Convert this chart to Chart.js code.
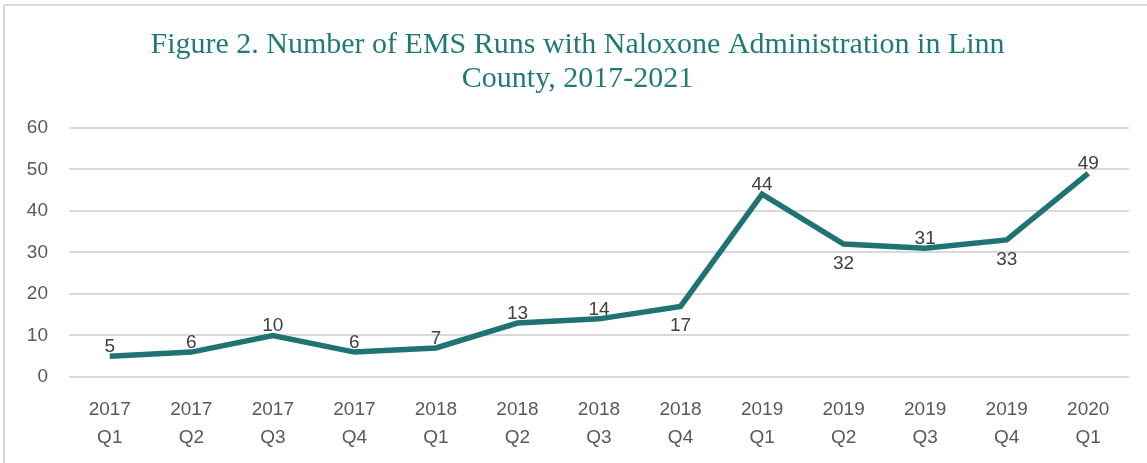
<!DOCTYPE html>
<html>
<head>
<meta charset="utf-8">
<script src="https://cdn.jsdelivr.net/npm/chart.js@4"></script>
<style>
  html, body { margin: 0; padding: 0; background: #ffffff; overflow: hidden; }
  #frame { position: absolute; left: 3px; top: 4px; width: 1160px; height: 480px; border: 2px solid #d9d9d9; box-sizing: border-box; }
  #wrap { position: absolute; left: 0; top: 0; width: 1147px; height: 463px; }
</style>
</head>
<body>
<div id="frame"></div>
<div id="wrap"><canvas id="c" width="1147" height="463"></canvas></div>
<script>
const years = ['2017','2017','2017','2017','2018','2018','2018','2018','2019','2019','2019','2019','2020'];
const quarters = ['Q1','Q2','Q3','Q4','Q1','Q2','Q3','Q4','Q1','Q2','Q3','Q4','Q1'];
const runs = [5, 6, 10, 6, 7, 13, 14, 17, 44, 32, 31, 33, 49];
const labelSide = ['above','above','above','above','above','above','above','below','above','below','above','below','above'];
const yTicks = { min: 0, max: 60, step: 10 };

const categories = years.map((y, i) => [y, quarters[i]]);

const dataLabels = {
  id: 'dataLabels',
  afterDatasetsDraw(chart) {
    const ctx = chart.ctx;
    const meta = chart.getDatasetMeta(0);
    ctx.save();
    ctx.font = '19px "Liberation Sans", Arial, sans-serif';
    ctx.fillStyle = '#404040';
    ctx.textAlign = 'center';
    ctx.textBaseline = 'alphabetic';
    meta.data.forEach((pt, i) => {
      const side = labelSide[i];
      const y = side === 'below' ? pt.y + 25 : pt.y - 4;
      ctx.fillText(String(runs[i]), pt.x, y);
    });
    ctx.restore();
  }
};

new Chart(document.getElementById('c'), {
  type: 'line',
  data: {
    labels: categories,
    datasets: [{
      data: runs,
      borderColor: '#1f7373',
      borderWidth: 5.5,
      pointRadius: 0,
      pointHoverRadius: 0,
      tension: 0,
      fill: false,
      borderJoinStyle: 'miter',
      borderCapStyle: 'butt'
    }]
  },
  options: {
    responsive: false,
    animation: false,
    devicePixelRatio: 1,
    layout: { padding: { left: 26, right: 18, top: 0, bottom: 0 } },
    plugins: {
      legend: { display: false },
      tooltip: { enabled: false },
      title: {
        display: true,
        text: ['Figure 2. Number of EMS Runs with Naloxone Administration in Linn', 'County, 2017-2021'],
        color: '#217a78',
        font: { family: '"Liberation Serif", "DejaVu Serif", serif', size: 30, weight: 'normal', lineHeight: 1.13 },
        padding: { top: 28, bottom: 32 }
      }
    },
    scales: {
      x: {
        offset: true,
        grid: { display: false, drawTicks: false },
        border: { display: false },
        afterFit(scale) { scale.height = 86; },
        ticks: {
          color: '#595959',
          font: { family: '"Liberation Sans", Arial, sans-serif', size: 19, lineHeight: 1.47 },
          padding: 19,
          maxRotation: 0,
          autoSkip: false
        }
      },
      y: {
        min: yTicks.min,
        max: yTicks.max,
        grid: { color: '#d9d9d9', lineWidth: 2, drawTicks: false },
        border: { display: false },
        afterFit(scale) { scale.width = 43; },
        ticks: {
          stepSize: yTicks.step,
          color: '#595959',
          font: { family: '"Liberation Sans", Arial, sans-serif', size: 19 },
          padding: 21
        }
      }
    }
  },
  plugins: [dataLabels]
});
</script>
</body>
</html>
